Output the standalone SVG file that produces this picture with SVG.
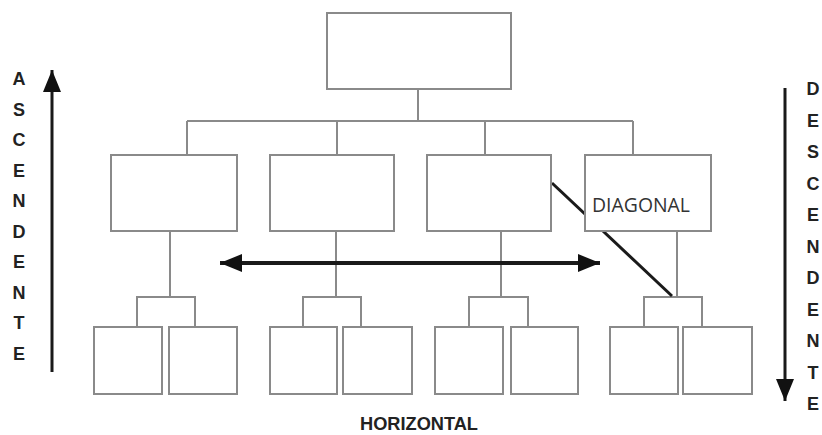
<svg xmlns="http://www.w3.org/2000/svg" width="822" height="435" viewBox="0 0 822 435">
<style>
.box{fill:#fff;stroke:#8a8a8a;stroke-width:2}
.con{fill:none;stroke:#8a8a8a;stroke-width:2}
.thk{fill:none;stroke:#1a1a1a}
.lbl{font-family:"Liberation Sans",Arial,sans-serif;font-weight:bold;font-size:18px;fill:#222;text-anchor:middle}
.diag{font-family:"Open Sans","DejaVu Sans",sans-serif;font-size:20px;fill:#333}
</style>
<defs>
<marker id="ah" viewBox="0 0 22 18" refX="22" refY="9" markerWidth="22" markerHeight="18" markerUnits="userSpaceOnUse" orient="auto-start-reverse">
<path d="M0,0 L22,9 L0,18 Z" fill="#111"/>
</marker>
</defs>
<rect width="822" height="435" fill="#fff"/>
<g id="connectors">
<path class="con" d="M418,89 V121 M187,121 H633 M187,121 V155 M337,121 V155 M485,121 V155 M633,121 V155"/>
<path class="con" d="M170,231 V297 M137,327 V297 H195 V327"/>
<path class="con" d="M336,231 V297 M303,327 V297 H361 V327"/>
<path class="con" d="M501,231 V297 M469,327 V297 H528 V327"/>
<path class="con" d="M677,231 V297 M644,327 V297 H702 V327"/>
<line class="thk" x1="552" y1="183" x2="672" y2="296" stroke-width="3"/>
<line class="thk" x1="220" y1="263" x2="600" y2="263" stroke-width="4" marker-start="url(#ah)" marker-end="url(#ah)"/>
<line class="thk" x1="52" y1="372" x2="52" y2="70" stroke-width="3" marker-end="url(#ah)"/>
<line class="thk" x1="785" y1="88" x2="785" y2="401" stroke-width="3" marker-end="url(#ah)"/>
</g>
<g id="n0"><rect class="box" x="327" y="13" width="184" height="76"/></g>
<g id="m1"><rect class="box" x="111" y="155" width="126" height="76"/></g>
<g id="m2"><rect class="box" x="270" y="155" width="124" height="76"/></g>
<g id="m3"><rect class="box" x="427" y="155" width="124" height="76"/></g>
<g id="m4"><rect class="box" x="585" y="155" width="126" height="76"/></g>
<g id="b1"><rect class="box" x="94" y="327" width="68" height="67"/></g>
<g id="b2"><rect class="box" x="169" y="327" width="68" height="67"/></g>
<g id="b3"><rect class="box" x="270" y="327" width="67" height="67"/></g>
<g id="b4"><rect class="box" x="343" y="327" width="69" height="67"/></g>
<g id="b5"><rect class="box" x="435" y="327" width="68" height="67"/></g>
<g id="b6"><rect class="box" x="511" y="327" width="67" height="67"/></g>
<g id="b7"><rect class="box" x="610" y="327" width="68" height="67"/></g>
<g id="b8"><rect class="box" x="683" y="327" width="69" height="67"/></g>
<g id="labels">
<text class="diag" x="592" y="212" textLength="98" lengthAdjust="spacingAndGlyphs">DIAGONAL</text>
<text class="lbl" x="419" y="430" textLength="118" lengthAdjust="spacingAndGlyphs">HORIZONTAL</text>
<text class="lbl" x="19" y="85">A</text>
<text class="lbl" x="19" y="115.5">S</text>
<text class="lbl" x="19" y="146">C</text>
<text class="lbl" x="19" y="176.5">E</text>
<text class="lbl" x="19" y="207">N</text>
<text class="lbl" x="19" y="237.5">D</text>
<text class="lbl" x="19" y="268">E</text>
<text class="lbl" x="19" y="298.5">N</text>
<text class="lbl" x="19" y="329">T</text>
<text class="lbl" x="19" y="360">E</text>
<text class="lbl" x="813" y="95">D</text>
<text class="lbl" x="813" y="126.5">E</text>
<text class="lbl" x="813" y="158">S</text>
<text class="lbl" x="813" y="189.5">C</text>
<text class="lbl" x="813" y="221">E</text>
<text class="lbl" x="813" y="252.5">N</text>
<text class="lbl" x="813" y="284">D</text>
<text class="lbl" x="813" y="315.5">E</text>
<text class="lbl" x="813" y="347">N</text>
<text class="lbl" x="813" y="378.5">T</text>
<text class="lbl" x="813" y="410">E</text>
</g>
</svg>
